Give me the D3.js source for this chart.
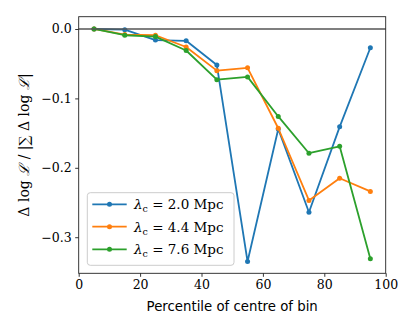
<!DOCTYPE html>
<html>
<head>
<meta charset="utf-8">
<script src="https://cdn.jsdelivr.net/npm/d3@7"></script>
<style>
  body { margin: 0; background: #fff; }
  svg text { fill: #000; }
</style>
</head>
<body>
<svg id="chart" width="415" height="332"></svg>
<script>
const percentiles = [5, 15, 25, 35, 45, 55, 65, 75, 85, 95];
const lambda20 = [0, -0.001, -0.016, -0.017, -0.052, -0.335, -0.144, -0.264, -0.141, -0.027];
const lambda44 = [0, -0.008, -0.009, -0.026, -0.060, -0.056, -0.143, -0.247, -0.215, -0.234];
const lambda76 = [0, -0.009, -0.011, -0.031, -0.073, -0.069, -0.126, -0.179, -0.169, -0.331];
const seriesNames = ["2.0", "4.4", "7.6"];
const xTicks = [0, 20, 40, 60, 80, 100];
const yTicks = [0, -0.1, -0.2, -0.3];

const series = [
  { name: seriesNames[0], values: lambda20, color: "#1f77b4" },
  { name: seriesNames[1], values: lambda44, color: "#ff7f0e" },
  { name: seriesNames[2], values: lambda76, color: "#2ca02c" }
];

const svg = d3.select("#chart");
const margin = { left: 78.7, right: 29.3, top: 16.7, bottom: 58.7 };
const width = 415, height = 332;

const x = d3.scaleLinear().domain([0, 100]).range([margin.left, width - margin.right]);
const y = d3.scaleLinear().domain([-0.352, 0.0177]).range([height - margin.bottom, margin.top]);

const serif = "'DejaVu Serif', serif";
const sans = "'DejaVu Sans', sans-serif";

const line = d3.line()
  .x((d, i) => x(percentiles[i]))
  .y(d => y(d));

series.forEach(s => {
  const g = svg.append("g");
  g.append("path")
    .attr("d", line(s.values))
    .attr("fill", "none")
    .attr("stroke", s.color)
    .attr("stroke-width", 1.8)
    .attr("stroke-linejoin", "round");
  g.selectAll("circle")
    .data(s.values)
    .enter()
    .append("circle")
    .attr("cx", (d, i) => x(percentiles[i]))
    .attr("cy", d => y(d))
    .attr("r", 2.5)
    .attr("fill", s.color);
});

// zero line
svg.append("line")
  .attr("x1", x(0)).attr("x2", x(100))
  .attr("y1", y(0)).attr("y2", y(0))
  .attr("stroke", "#555").attr("stroke-width", 1.6);

// axes
const xAxis = svg.append("g")
  .attr("transform", `translate(0,${height - margin.bottom})`)
  .call(d3.axisBottom(x).tickValues(xTicks).tickSize(3.5).tickPadding(3).tickFormat(d3.format("d")));
const yAxis = svg.append("g")
  .attr("transform", `translate(${margin.left},0)`)
  .call(d3.axisLeft(y).tickValues(yTicks).tickSize(3.5).tickPadding(3.5)
    .tickFormat(d => d === 0 ? "0.0" : "\u2212" + d3.format(".1f")(-d)));
[xAxis, yAxis].forEach(a => {
  a.select(".domain").remove();
  a.selectAll("line").attr("stroke", "#000").attr("stroke-width", 0.8);
  a.selectAll("text").style("font-family", serif).style("font-size", "12.5px");
});

// frame
svg.append("rect")
  .attr("x", x(0)).attr("y", margin.top)
  .attr("width", x(100) - x(0))
  .attr("height", height - margin.bottom - margin.top)
  .attr("fill", "none").attr("stroke", "#222").attr("stroke-width", 0.9);

// labels
svg.append("text")
  .attr("x", (x(0) + x(100)) / 2).attr("y", 311)
  .attr("text-anchor", "middle")
  .style("font-family", sans).style("font-size", "13.3px")
  .text("Percentile of centre of bin");

const ylab = svg.append("text")
  .attr("transform", `translate(29,${(margin.top + height - margin.bottom) / 2}) rotate(-90)`)
  .attr("text-anchor", "middle")
  .style("font-family", serif).style("font-size", "14px");
ylab.append("tspan").text("\u0394 log ");
ylab.append("tspan").style("font-style", "italic").text("\u2112");
ylab.append("tspan").text(" / |\u2211 \u0394 log ");
ylab.append("tspan").style("font-style", "italic").text("\u2112");
ylab.append("tspan").text("|");

// legend
const legend = svg.append("g");
legend.append("rect")
  .attr("x", 87.3).attr("y", 192.7)
  .attr("width", 146.7).attr("height", 72.6)
  .attr("rx", 3)
  .attr("fill", "#fff").attr("fill-opacity", 0.8)
  .attr("stroke", "#ccc").attr("stroke-width", 1);
const rowY = [204.3, 226.7, 249.3];
series.forEach((s, i) => {
  const gy = rowY[i];
  legend.append("line")
    .attr("x1", 92.3).attr("x2", 126.7)
    .attr("y1", gy).attr("y2", gy)
    .attr("stroke", s.color).attr("stroke-width", 1.8);
  legend.append("circle")
    .attr("cx", 109.5).attr("cy", gy).attr("r", 2.5).attr("fill", s.color);
  const t = legend.append("text")
    .attr("x", 134).attr("y", gy + 4.8)
    .style("font-family", serif).style("font-size", "13.5px");
  t.append("tspan").style("font-style", "italic").text("\u03bb");
  t.append("tspan").attr("dy", 3).style("font-size", "9.5px").text("c");
  t.append("tspan").attr("dy", -3).text(` = ${s.name} Mpc`);
});
</script>
</body>
</html>
